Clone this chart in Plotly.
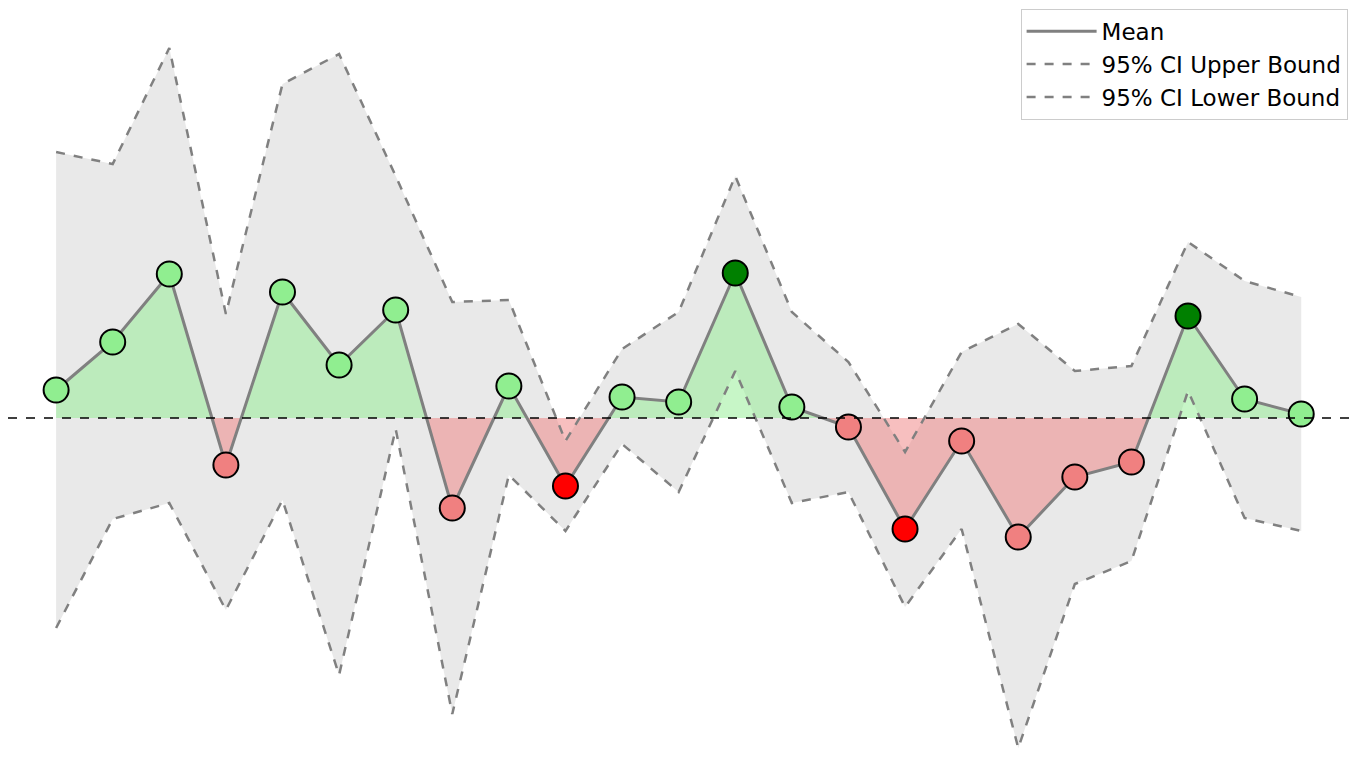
import plotly.graph_objects as go
import numpy as np

x = list(range(23))
mean = [0.28, 0.76, 1.44, -0.47, 1.26, 0.53, 1.08, -0.90, 0.32, -0.68, 0.21, 0.16, 1.45,
        0.11, -0.09, -1.11, -0.23, -1.19, -0.59, -0.44, 1.02, 0.19, 0.04]
upper = [2.66, 2.54, 3.70, 1.04, 3.34, 3.64, 2.42, 1.16, 1.18, -0.23, 0.69, 1.06, 2.42,
         1.06, 0.56, -0.34, 0.66, 0.94, 0.47, 0.52, 1.76, 1.37, 1.21]
lower = [-2.10, -1.01, -0.85, -1.92, -0.82, -2.57, -0.11, -2.96, -0.57, -1.13, -0.26, -0.74, 0.47,
         -0.85, -0.74, -1.89, -1.11, -3.30, -1.66, -1.43, 0.27, -1.00, -1.13]
colors = ['lightgreen'] * 23
for i, v in enumerate(mean):
    if v < 0:
        colors[i] = 'lightcoral'
colors[12] = 'green'; colors[20] = 'green'
colors[9] = 'red'; colors[15] = 'red'

xs, ys = [], []
for i in range(len(x)):
    xs.append(x[i]); ys.append(mean[i])
    if i < len(x) - 1 and mean[i] * mean[i + 1] < 0:
        t = mean[i] / (mean[i] - mean[i + 1])
        xs.append(x[i] + t); ys.append(0.0)
ys = np.array(ys)
pos = np.maximum(ys, 0); neg = np.minimum(ys, 0)

fig = go.Figure()
fig.add_trace(go.Scatter(x=x, y=lower, mode='lines', line=dict(width=0), showlegend=False, hoverinfo='skip'))
fig.add_trace(go.Scatter(x=x, y=upper, mode='lines', line=dict(width=0), fill='tonexty',
                         fillcolor='rgba(200,200,200,0.4)', showlegend=False, hoverinfo='skip'))
fig.add_trace(go.Scatter(x=xs, y=pos, mode='lines', line=dict(width=0), fill='tozeroy',
                         fillcolor='rgba(144,238,144,0.5)', showlegend=False))
fig.add_trace(go.Scatter(x=xs, y=neg, mode='lines', line=dict(width=0), fill='tozeroy',
                         fillcolor='rgba(240,128,128,0.5)', showlegend=False))
fig.add_trace(go.Scatter(x=x, y=mean, mode='lines', name='Mean', line=dict(color='grey', width=3)))
fig.add_trace(go.Scatter(x=x, y=upper, mode='lines', name='95% CI Upper Bound',
                         line=dict(color='grey', width=2.5, dash='dash')))
fig.add_trace(go.Scatter(x=x, y=lower, mode='lines', name='95% CI Lower Bound',
                         line=dict(color='grey', width=2.5, dash='dash')))
fig.add_trace(go.Scatter(x=x, y=mean, mode='markers', showlegend=False,
                         marker=dict(size=25, color=colors, line=dict(color='black', width=2))))
fig.add_shape(type='line', xref='paper', x0=0, x1=1, y0=0, y1=0,
              line=dict(color='black', width=1.5, dash='dash'))

fig.update_layout(
    width=1360, height=758, margin=dict(l=0, r=0, t=0, b=0),
    plot_bgcolor='white', paper_bgcolor='white',
    xaxis=dict(range=[-0.85, 23.18], visible=False),
    yaxis=dict(range=[-3.48, 4.10], visible=False),
    font=dict(family='DejaVu Sans', size=23, color='black'),
    legend=dict(x=0.985, y=0.999, xanchor='right', yanchor='top', bgcolor='white',
                traceorder='normal', tracegroupgap=4,
                bordercolor='#cccccc', borderwidth=1, itemwidth=70),
)
fig.write_html('out.html')
